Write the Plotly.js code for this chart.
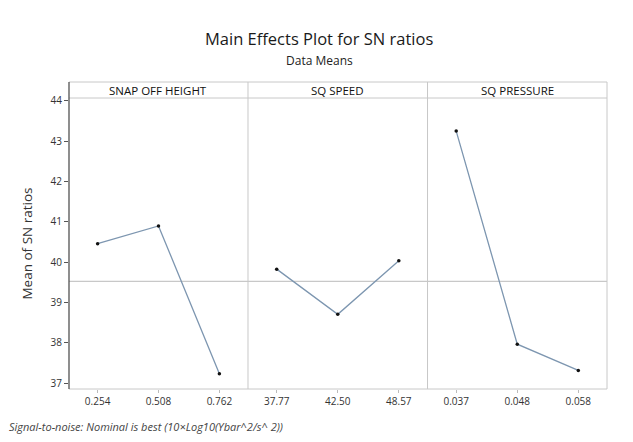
<!DOCTYPE html>
<html>
<head>
<meta charset="utf-8">
<script src="https://cdn.plot.ly/plotly-3.0.1.min.js"></script>
<style>html,body{margin:0;padding:0;background:#fff;}#chart{width:633px;height:442px;}</style>
</head>
<body>
<div id="chart"></div>
<script>
// Data
const factors = ["SNAP OFF HEIGHT", "SQ SPEED", "SQ PRESSURE"];
const levelsSnap = ["0.254", "0.508", "0.762"];
const levelsSpeed = ["37.77", "42.50", "48.57"];
const levelsPressure = ["0.037", "0.048", "0.058"];
const snMeansSnap = [40.46, 40.90, 37.24];
const snMeansSpeed = [39.83, 38.71, 40.04];
const snMeansPressure = [43.25, 37.97, 37.32];
const yTicks = [37, 38, 39, 40, 41, 42, 43, 44];

const levelSets = [levelsSnap, levelsSpeed, levelsPressure];
const meanSets = [snMeansSnap, snMeansSpeed, snMeansPressure];

const allVals = [].concat(snMeansSnap, snMeansSpeed, snMeansPressure);
const grandMean = allVals.reduce((a, b) => a + b, 0) / allVals.length;

const lineColor = "#7d96b0";
const gridGray = "#c8c8c8";
const bounds = [0, 0.3327, 0.6664, 1];
const stripTop = 1 + 16 / 291;

const traces = meanSets.map((vals, i) => ({
  x: levelSets[i].map((_, k) => k + 1),
  y: vals,
  xaxis: i === 0 ? "x" : "x" + (i + 1),
  yaxis: "y",
  type: "scatter",
  mode: "lines+markers",
  line: {color: lineColor, width: 1.3},
  marker: {color: "#111", size: 3.5},
  hoverinfo: "skip",
  showlegend: false
}));

const layout = {
  width: 633,
  height: 442,
  margin: {l: 69, r: 26, t: 98, b: 53},
  paper_bgcolor: "#fff",
  plot_bgcolor: "#fff",
  font: {family: "Open Sans, sans-serif", color: "#222"},
  showlegend: false,
  yaxis: {
    range: [36.86, 44.07],
    tickvals: yTicks,
    ticktext: yTicks.map(String),
    ticks: "outside",
    ticklen: 4,
    tickcolor: "#555",
    tickfont: {size: 10, color: "#333", family: "Open Sans, sans-serif"},
    showgrid: false,
    zeroline: false,
    showline: false,
    fixedrange: true,
    title: {text: "Mean of SN ratios", font: {size: 13.5, color: "#333", family: "Open Sans, sans-serif"}, standoff: 14}
  },
  shapes: [],
  annotations: []
};

for (let i = 0; i < 3; i++) {
  const key = i === 0 ? "xaxis" : "xaxis" + (i + 1);
  layout[key] = {
    domain: [bounds[i], bounds[i + 1]],
    anchor: "y",
    range: [0.53, 3.47],
    tickvals: [1, 2, 3],
    ticktext: levelSets[i],
    ticks: "outside",
    ticklen: 3,
    tickcolor: "#bbb",
    tickfont: {size: 10, color: "#333", family: "Open Sans, sans-serif"},
    showgrid: false,
    zeroline: false,
    showline: false,
    fixedrange: true
  };
  // strip label
  layout.annotations.push({
    text: factors[i],
    xref: "paper", yref: "paper",
    x: (bounds[i] + bounds[i + 1]) / 2,
    y: (1 + stripTop) / 2,
    xanchor: "center", yanchor: "middle",
    showarrow: false,
    font: {size: 11.5, color: "#111", family: "Open Sans, sans-serif"}
  });
}

// frame: right, top of strip, strip bottom, bottom axis
const S = layout.shapes;
S.push({type: "line", xref: "paper", yref: "paper", x0: 0, x1: 1, y0: stripTop, y1: stripTop, line: {color: gridGray, width: 1}});
S.push({type: "line", xref: "paper", yref: "paper", x0: 0, x1: 1, y0: 1, y1: 1, line: {color: gridGray, width: 1}});
S.push({type: "line", xref: "paper", yref: "paper", x0: 0, x1: 1, y0: 0, y1: 0, line: {color: gridGray, width: 1}});
S.push({type: "line", xref: "paper", yref: "paper", x0: 1, x1: 1, y0: 0, y1: stripTop, line: {color: gridGray, width: 1}});
S.push({type: "line", xref: "paper", yref: "paper", x0: bounds[1], x1: bounds[1], y0: 0, y1: stripTop, line: {color: gridGray, width: 1}});
S.push({type: "line", xref: "paper", yref: "paper", x0: bounds[2], x1: bounds[2], y0: 0, y1: stripTop, line: {color: gridGray, width: 1}});
// reference line at grand mean
S.push({type: "line", xref: "paper", yref: "y", x0: 0, x1: 1, y0: grandMean, y1: grandMean, line: {color: gridGray, width: 1.2}, layer: "below"});
// left axis line (dark)
S.push({type: "line", xref: "paper", yref: "paper", x0: 0, x1: 0, y0: 0, y1: stripTop, line: {color: "#444", width: 1.2}});

// titles
layout.annotations.push({
  text: "Main Effects Plot for SN ratios",
  xref: "paper", yref: "paper", x: 0.465, y: 1 + (98 - 38) / 291,
  xanchor: "center", yanchor: "middle", showarrow: false,
  font: {size: 16.5, color: "#1a1a1a", family: "Open Sans, sans-serif"}
});
layout.annotations.push({
  text: "Data Means",
  xref: "paper", yref: "paper", x: 0.465, y: 1 + (98 - 60) / 291,
  xanchor: "center", yanchor: "middle", showarrow: false,
  font: {size: 12, color: "#222", family: "Open Sans, sans-serif"}
});
layout.annotations.push({
  text: "<i>Signal-to-noise: Nominal is best (10×Log10(Ybar^2/s^ 2))</i>",
  xref: "paper", yref: "paper", x: -62 / 538, y: -(426 - 389) / 291,
  xanchor: "left", yanchor: "middle", showarrow: false,
  font: {size: 11, color: "#444", family: "Open Sans, sans-serif"}
});

Plotly.newPlot("chart", traces, layout, {staticPlot: true, displayModeBar: false});
</script>
</body>
</html>
